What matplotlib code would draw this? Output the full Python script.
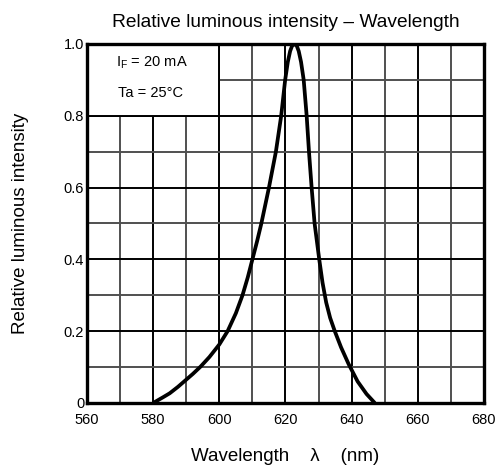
import numpy as np
import matplotlib
matplotlib.use('Agg')
import matplotlib.pyplot as plt
from matplotlib.patches import Rectangle

plt.rcParams['font.family'] = ['Liberation Sans', 'DejaVu Sans']
plt.rcParams['mathtext.fontset'] = 'custom'
plt.rcParams['mathtext.rm'] = 'Liberation Sans'

# curva (nm, intensidade relativa)
comprimento = [580, 583, 585, 587.5, 590, 592, 594.3, 597, 600, 602.5, 605, 607, 608.6,
               610, 611.4, 612.7, 615, 617.1, 618.7, 619.9, 620.7, 621.4, 622, 622.7,
               623.4, 624, 624.7, 625.5, 626.4, 627.1, 627.9, 628.8, 630.2, 631.2,
               632.3, 633.5, 634.9, 636.8, 639.1, 641.8, 644.5, 647]
intensidade = [0, 0.016, 0.027, 0.045, 0.065, 0.081, 0.101, 0.128, 0.163, 0.2, 0.25, 0.3, 0.35,
               0.4, 0.45, 0.5, 0.6, 0.7, 0.8, 0.9, 0.95, 0.98, 0.995, 1.0,
               0.995, 0.98, 0.95, 0.9, 0.8, 0.7, 0.6, 0.5, 0.4, 0.335,
               0.28, 0.237, 0.2, 0.155, 0.108, 0.06, 0.025, 0]

xticks = [560, 580, 600, 620, 640, 660, 680]
yticks = [0, 0.2, 0.4, 0.6, 0.8, 1.0]
ytick_labels = ['0', '0.2', '0.4', '0.6', '0.8', '1.0']

fig = plt.figure(figsize=(5.04, 4.70), dpi=100)
ax = fig.add_axes([0.1726, 0.1426, 0.7877, 0.7638])

ax.set_xlim(560, 680)
ax.set_ylim(0, 1.0)
ax.set_xticks(xticks)
ax.set_yticks(yticks)
ax.set_yticklabels(ytick_labels)
ax.set_xticks(np.arange(570, 680, 20), minor=True)
ax.set_yticks(np.arange(0.1, 1.0, 0.2), minor=True)
ax.tick_params(which='both', length=0, labelsize=10.5)
ax.tick_params(axis='x', pad=7)
ax.tick_params(axis='y', pad=2)

ax.grid(which='major', color='black', linewidth=1.4)
ax.grid(which='minor', color='#505050', linewidth=1.4)
ax.set_axisbelow(True)

for s in ax.spines.values():
    s.set_linewidth(2.4)
    s.set_zorder(5)

# caixa das condicoes
ax.add_patch(Rectangle((560, 0.8), 40, 0.2, facecolor='white', edgecolor='black',
                       linewidth=1.4, zorder=2))
ax.text(579.6, 0.947, r'I$_\mathregular{F}$ = 20 mA', ha='center', va='center',
        fontsize=10.5, zorder=3)
ax.text(579.3, 0.864, 'Ta = 25°C', ha='center', va='center', fontsize=10.5, zorder=3)

ax.plot(comprimento, intensidade, color='black', linewidth=2.7, zorder=4,
        solid_joinstyle='round', solid_capstyle='butt')

ax.set_title('Relative luminous intensity – Wavelength', fontsize=13.8, pad=12)
ax.set_xlabel('Wavelength    λ    (nm)', fontsize=13.5, va='center')
ax.xaxis.set_label_coords(0.5, -0.148)
ax.set_ylabel('Relative luminous intensity', fontsize=13.5, va='center')
ax.yaxis.set_label_coords(-0.168, 0.5)

fig.savefig('out.png', dpi=100)
